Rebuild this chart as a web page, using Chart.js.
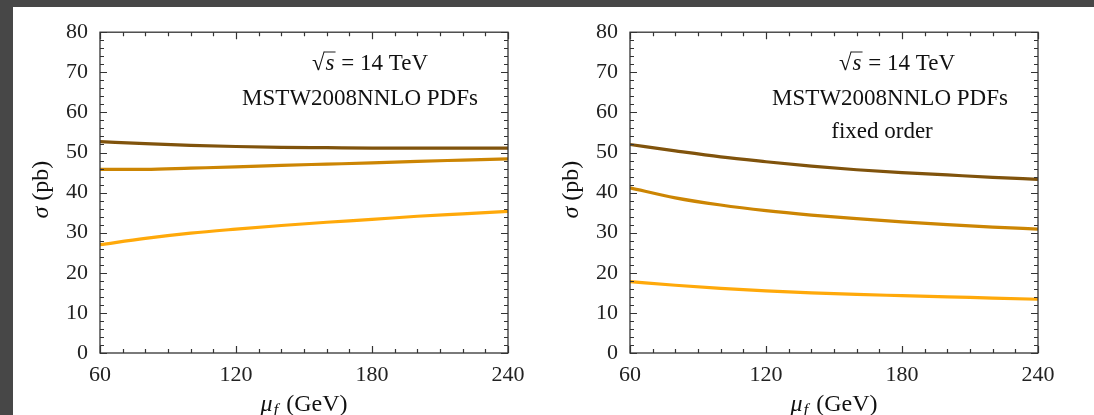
<!DOCTYPE html>
<html>
<head>
<meta charset="utf-8">
<script src="https://cdn.jsdelivr.net/npm/chart.js@4.4.1/dist/chart.umd.min.js"></script>
<style>
  html, body { margin: 0; padding: 0; background: #474747; }
  body { width: 1094px; height: 415px; overflow: hidden; position: relative; }
  #sheet { position: absolute; left: 13px; top: 7px; width: 1081px; height: 408px; background: #fff; }
  .box { position: absolute; top: 0; height: 408px; }
  #b1 { left: 0; width: 527px; }
  #b2 { left: 527px; width: 554px; }
</style>
</head>
<body>
<div id="sheet">
  <div class="box" id="b1"><canvas id="c1"></canvas></div>
  <div class="box" id="b2"><canvas id="c2"></canvas></div>
</div>
<script>
// mu_f in GeV
const muF = [60, 80, 100, 120, 140, 160, 180, 200, 220, 240];

// left panel (resummed)
const leftDark   = [52.7, 52.2, 51.8, 51.5, 51.3, 51.2, 51.1, 51.1, 51.1, 51.1];
const leftMid    = [45.8, 45.8, 46.1, 46.4, 46.8, 47.1, 47.4, 47.8, 48.1, 48.4];
const leftLight  = [27.0, 28.6, 29.9, 30.9, 31.8, 32.6, 33.3, 34.1, 34.7, 35.3];

// right panel (fixed order)
const rightDark  = [52.0, 50.4, 48.9, 47.7, 46.6, 45.7, 45.0, 44.4, 43.8, 43.3];
const rightMid   = [41.2, 38.7, 36.9, 35.5, 34.4, 33.5, 32.7, 32.0, 31.4, 30.9];
const rightLight = [17.8, 16.9, 16.1, 15.5, 15.0, 14.6, 14.3, 14.0, 13.7, 13.4];

const yTicks = [0, 10, 20, 30, 40, 50, 60, 70, 80];
const xTicks = [60, 120, 180, 240];

const colDark = "#80530c";
const colMid = "#cc8503";
const colLight = "#ffa90a";
const serif = "'Liberation Serif', 'DejaVu Serif', serif";

// frame, inward ticks, axis titles and text notes
const deco = {
  id: "deco",
  afterDraw(chart, args, opts) {
    const ctx = chart.ctx;
    const a = chart.chartArea;
    const xs = chart.scales.x, ys = chart.scales.y;
    ctx.save();
    ctx.strokeStyle = "#333";
    ctx.lineWidth = 1.3;
    ctx.strokeRect(a.left, a.top, a.right - a.left, a.bottom - a.top);
    ctx.lineWidth = 1.2;
    ctx.beginPath();
    for (let v = 0; v <= 80; v += 2) {
      const y = Math.round(ys.getPixelForValue(v)) + 0.5;
      const len = v % 10 === 0 ? 7 : 4;
      ctx.moveTo(a.left, y); ctx.lineTo(a.left + len, y);
      ctx.moveTo(a.right, y); ctx.lineTo(a.right - len, y);
    }
    for (let v = 60; v <= 240; v += 10) {
      const x = Math.round(xs.getPixelForValue(v)) + 0.5;
      const len = v % 60 === 0 ? 7 : 4;
      ctx.moveTo(x, a.bottom); ctx.lineTo(x, a.bottom - len);
      ctx.moveTo(x, a.top); ctx.lineTo(x, a.top + len);
    }
    ctx.stroke();

    ctx.fillStyle = "#111";
    // y title: sigma (pb)
    ctx.save();
    ctx.translate(opts.yTitleX, (a.top + a.bottom) / 2 - 3);
    ctx.rotate(-Math.PI / 2);
    ctx.textBaseline = "alphabetic";
    ctx.font = "italic 24px " + serif;
    const wSig = ctx.measureText("σ").width;
    ctx.font = "24px " + serif;
    const wRest = ctx.measureText(" (pb)").width;
    let x0 = -(wSig + wRest) / 2;
    ctx.font = "italic 24px " + serif;
    ctx.fillText("σ", x0, 0);
    ctx.font = "24px " + serif;
    ctx.fillText(" (pb)", x0 + wSig, 0);
    ctx.restore();

    // x title: mu_f (GeV)
    ctx.textBaseline = "alphabetic";
    ctx.font = "italic 24px " + serif;
    const wMu = ctx.measureText("μ").width;
    ctx.font = "italic 17px " + serif;
    const wF = ctx.measureText("f").width;
    ctx.font = "24px " + serif;
    const wG = ctx.measureText(" (GeV)").width;
    const cx = (a.left + a.right) / 2;
    const by = opts.xTitleY;
    let xx = cx - (wMu + wF + 3 + wG) / 2;
    ctx.font = "italic 24px " + serif;
    ctx.fillText("μ", xx, by);
    ctx.font = "italic 17px " + serif;
    ctx.fillText("f", xx + wMu + 1, by + 4);
    ctx.font = "24px " + serif;
    ctx.fillText(" (GeV)", xx + wMu + wF + 3, by);

    // notes
    const fs = 23;
    opts.notes.forEach((n) => {
      ctx.font = fs + "px " + serif;
      if (n.sqrt) {
        const wr = ctx.measureText("√").width;
        ctx.font = "italic " + fs + "px " + serif;
        const ws = ctx.measureText("s").width;
        ctx.font = fs + "px " + serif;
        const wt = ctx.measureText(" = 14 TeV").width;
        let sx = n.x - (wr + ws + 2 + wt) / 2;
        ctx.fillText("√", sx, n.y);
        ctx.font = "italic " + fs + "px " + serif;
        ctx.fillText("s", sx + wr + 1, n.y);
        ctx.lineWidth = 1.1;
        ctx.beginPath();
        ctx.moveTo(sx + wr - 1, n.y - 18);
        ctx.lineTo(sx + wr + ws + 2, n.y - 18);
        ctx.stroke();
        ctx.font = fs + "px " + serif;
        ctx.fillText(" = 14 TeV", sx + wr + ws + 2, n.y);
      } else {
        ctx.textAlign = "center";
        ctx.fillText(n.text, n.x, n.y);
        ctx.textAlign = "left";
      }
    });
    ctx.restore();
  },
};

function makeChart(id, dark, mid, light, padRight, yWidth, decoOpts) {
  const ds = (data, color) => ({
    data: muF.map((m, i) => ({ x: m, y: data[i] })),
    borderColor: color,
    backgroundColor: color,
    borderWidth: 3.2,
    pointRadius: 0,
    tension: 0.4,
    cubicInterpolationMode: "monotone",
  });
  return new Chart(document.getElementById(id), {
    type: "line",
    data: { datasets: [ds(light, colLight), ds(mid, colMid), ds(dark, colDark)] },
    options: {
      responsive: true,
      maintainAspectRatio: false,
      animation: false,
      events: [],
      layout: { padding: { top: 25, right: padRight, left: 0, bottom: 0 } },
      plugins: { legend: { display: false }, tooltip: { enabled: false }, deco: decoOpts },
      scales: {
        x: {
          type: "linear",
          min: 60,
          max: 240,
          afterBuildTicks: (s) => { s.ticks = xTicks.map((v) => ({ value: v })); },
          afterFit: (s) => { s.height = 62; },
          grid: { display: false, drawTicks: false },
          border: { display: false },
          ticks: { color: "#222", padding: 9, font: { family: serif, size: 22 }, maxRotation: 0 },
        },
        y: {
          min: 0,
          max: 80,
          afterBuildTicks: (s) => { s.ticks = yTicks.map((v) => ({ value: v })); },
          afterFit: (s) => { s.width = yWidth; },
          grid: { display: false, drawTicks: false },
          border: { display: false },
          ticks: { color: "#222", padding: 12, font: { family: serif, size: 22 } },
        },
      },
    },
    plugins: [deco],
  });
}

makeChart("c1", leftDark, leftMid, leftLight, 32, 87, {
  yTitleX: 35,
  xTitleY: 404,
  notes: [
    { sqrt: true, x: 357, y: 63 },
    { text: "MSTW2008NNLO PDFs", x: 347, y: 98 },
  ],
});

makeChart("c2", rightDark, rightMid, rightLight, 56, 90, {
  yTitleX: 38,
  xTitleY: 404,
  notes: [
    { sqrt: true, x: 357, y: 63 },
    { text: "MSTW2008NNLO PDFs", x: 350, y: 98 },
    { text: "fixed order", x: 342, y: 131 },
  ],
});
</script>
</body>
</html>
